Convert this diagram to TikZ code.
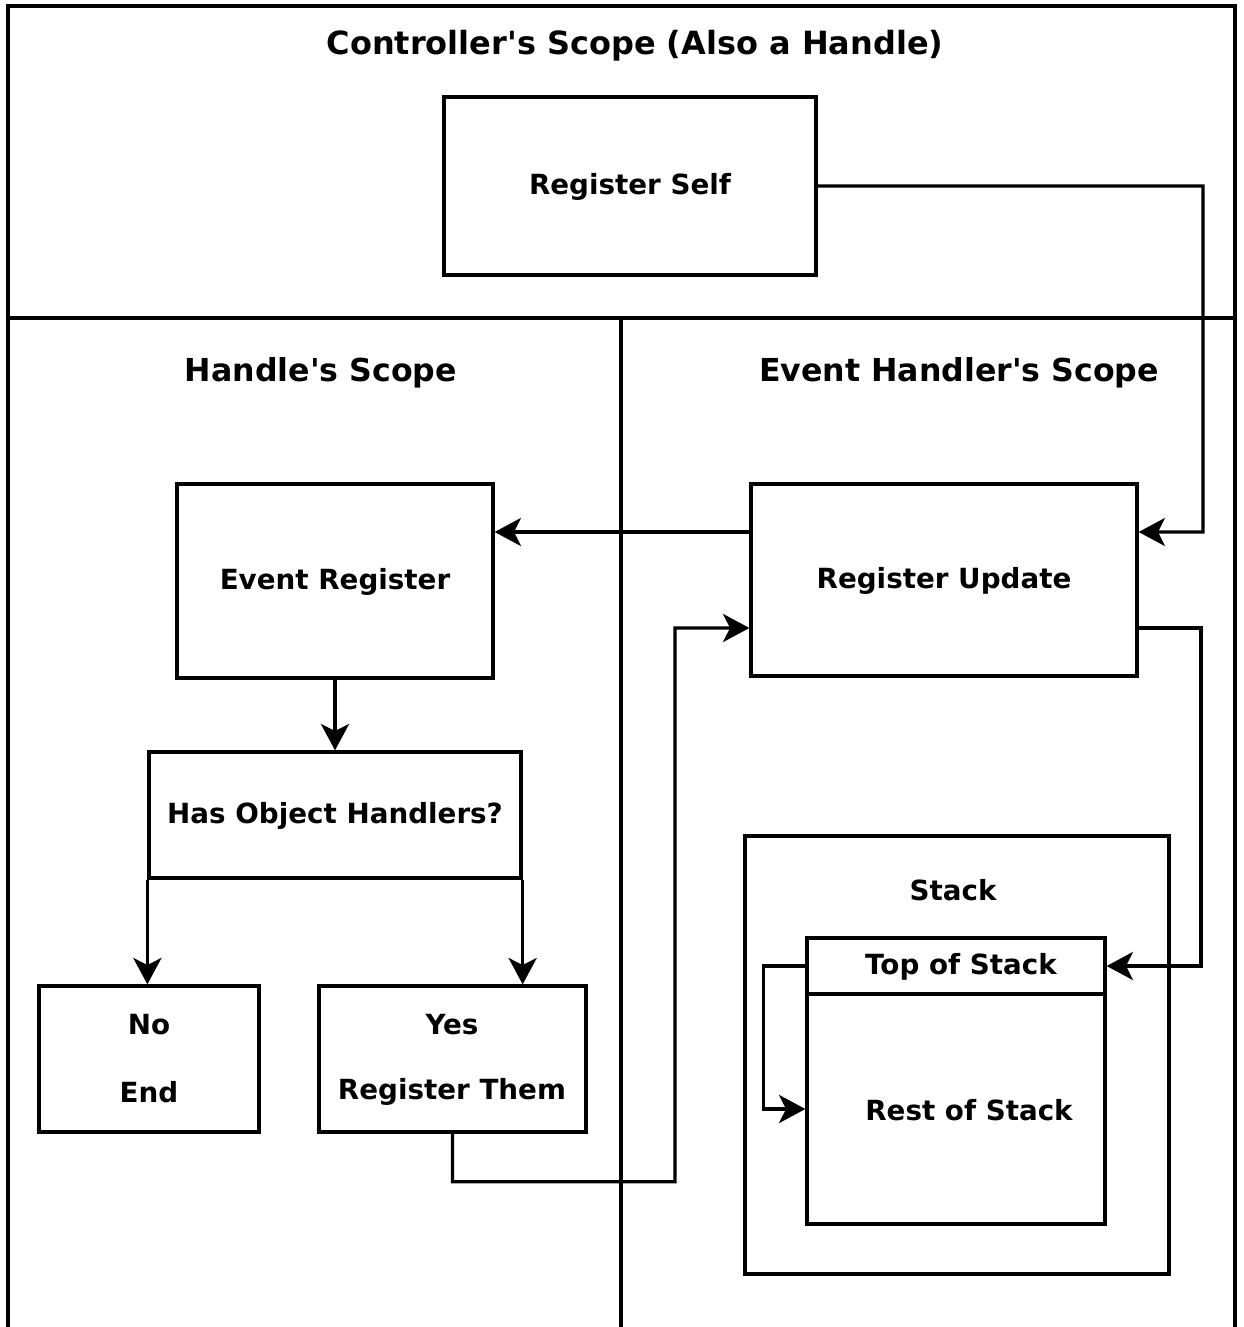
\documentclass[tikz,border=0pt]{standalone}
\usepackage{fontspec}
\setmainfont{DejaVu Sans}
\usetikzlibrary{arrows.meta,calc}
\newcommand{\apos}{\textquotesingle}
\begin{document}
\begin{tikzpicture}[x=0.02cm,y=-0.02cm,
  line width=1.9pt,
  box/.style={draw,rectangle,inner sep=0pt,font=\fontsize{15.8}{19}\selectfont\bfseries},
  lbl/.style={inner sep=0pt,font=\fontsize{15.8}{19}\selectfont\bfseries},
  ttl/.style={inner sep=0pt,font=\fontsize{18}{22}\selectfont\bfseries},
  arr/.style={-{Stealth[length=15pt,width=16pt,inset=4pt]}}]
\clip (0,0) rectangle (1243,1327);
\fill[white] (0,0) rectangle (1243,1327);
% frames
\draw (8,6) rectangle (1235,1360);
\draw (8,318) -- (1235,318);
\draw (621,318) -- (621,1360);
\node[ttl,font=\fontsize{18.2}{22}\selectfont\bfseries] (t1) at (635,46) {Controller\apos s Scope (Also a Handle)};
\node[ttl] (t2) at (321,373) {Handle\apos s Scope};
\node[ttl] (t3) at (959,373) {Event Handler\apos s Scope};
% boxes
\node[box,minimum width=7.44cm,minimum height=3.56cm] (regself) at (630,186) {};
\node[lbl] (regselft) at (630,187) {Register Self};
\node[box,minimum width=6.32cm,minimum height=3.88cm] (evreg) at (335,581) {};
\node[lbl] (evregt) at (335,582) {Event Register};
\node[box,minimum width=7.72cm,minimum height=3.84cm] (regupd) at (944,580) {};
\node[lbl] (regupdt) at (944,581) {Register Update};
\node[box,minimum width=7.44cm,minimum height=2.52cm] (hasobj) at (335,815) {};
\node[lbl] (hasobjt) at (335,816) {Has Object Handlers?};
\node[box,minimum width=4.4cm,minimum height=2.92cm] (noend) at (149,1059) {};
\node[lbl] (no) at (149,1025) {No};
\node[lbl] (end) at (149,1092) {End};
\node[box,minimum width=5.34cm,minimum height=2.92cm] (yes) at (452.5,1059) {};
\node[lbl] (yest) at (452,1025) {Yes};
\node[lbl] (regthem) at (452,1092) {Register Them};
\node[box,minimum width=8.48cm,minimum height=8.76cm] (stack) at (957,1055) {};
\node[lbl] (stackt) at (953,890) {Stack};
\node[box,minimum width=5.96cm,minimum height=1.12cm] (top) at (956,966) {};
\node[lbl] (topt) at (961,967) {Top of Stack};
\node[box,minimum width=5.96cm,minimum height=4.6cm] (rest) at (956,1109) {};
\node[lbl] (restt) at (969,1110) {Rest of Stack};
% connectors
\draw[arr] (regself.east) -- (1203,186) -- (1203,532) -- ([yshift=0.96cm]regupd.east);
\draw[arr] ([yshift=0.96cm]regupd.west) -- ([yshift=0.96cm]regupd.west -| evreg.east);
\draw[arr] (evreg.south) -- (hasobj.north);
\draw[arr] (hasobj.south west) -- (hasobj.south west |- noend.north);
\draw[arr] (hasobj.south east) -- (hasobj.south east |- yes.north);
\draw[arr] (yes.south) -- ++(0,48) -| (675,628) -- ([yshift=-0.96cm]regupd.west);
\draw[arr] ([yshift=-0.96cm]regupd.east) -| (1201,966) -- (top.east);
\draw[arr] (top.west) -- ++(-42,0) |- (rest.west);
\end{tikzpicture}
\end{document}
